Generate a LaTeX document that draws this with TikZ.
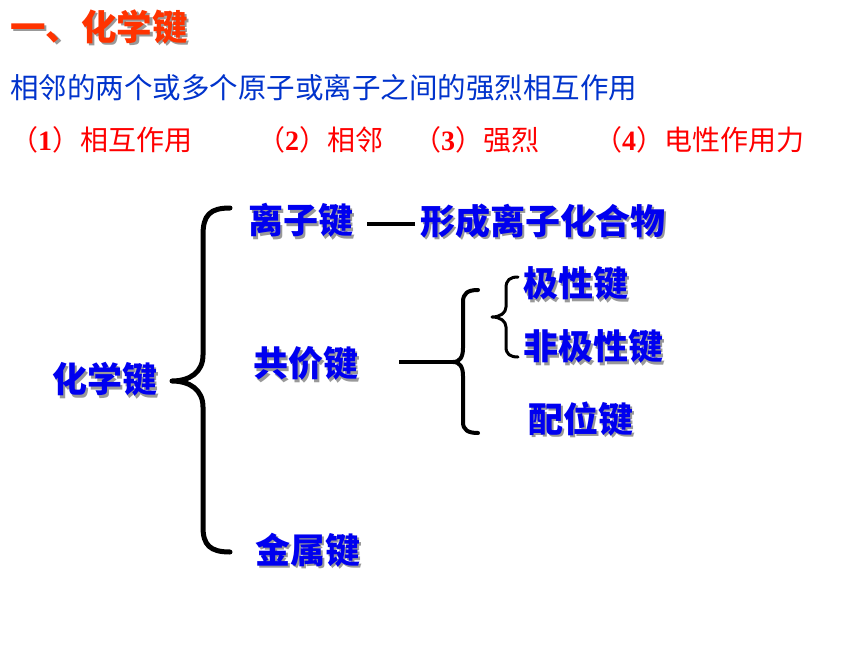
\documentclass[tikz,border=0pt]{standalone}
\usepackage{fontspec}
\setmainfont{Liberation Serif}
\newfontfamily\cjk{Noto Sans CJK SC}
\newfontfamily\lat{Liberation Serif}
\definecolor{titlered}{HTML}{FF3300}
\definecolor{lineblue}{HTML}{0033CC}
\definecolor{diagblue}{HTML}{0000F0}
\definecolor{itemred}{HTML}{FF0000}
\newcommand\shd[1]{\makebox[0pt][l]{\hspace{2.5pt}\raisebox{-2.5pt}{\color{black!40}#1}}#1}
\newcommand\dg[1]{{\lat\bfseries #1}}
\begin{document}
\begin{tikzpicture}[x=1pt,y=-1pt,
  txt/.style={inner sep=0pt, anchor=west},
  title/.style={txt, text=titlered, font=\cjk\bfseries\fontsize{35.5}{40}\selectfont},
  defn/.style={txt, text=lineblue, font=\cjk\fontsize{28.5}{32}\selectfont},
  item/.style={txt, text=itemred, font=\cjk\fontsize{28}{32}\selectfont},
  term/.style={txt, text=diagblue, font=\cjk\bfseries\fontsize{35}{38}\selectfont},
  brace/.style={draw=black, line cap=round, line join=round},
  link/.style={draw=black, line width=4pt}]
\useasboundingbox (0,0) rectangle (860,645);
\fill[white] (0,0) rectangle (860,645);

\node[title] (title) at (10,28) {\shd{一、化学键}};
\node[defn] (defn) at (10,88) {相邻的两个或多个原子或离子之间的强烈相互作用};
\node[item] (i1) at (10,140) {（\dg{1}）相互作用};
\node[item] (i2) at (257,140) {（\dg{2}）相邻};
\node[item] (i3) at (413,140) {（\dg{3}）强烈};
\node[item] (i4) at (594,140) {（\dg{4}）电性作用力};

\node[term] (ionic) at (248,222) {\shd{离子键}};
\node[term] (ioncomp) at (420,222) {\shd{形成离子化合物}};
\node[term] (chem) at (52,381) {\shd{化学键}};
\node[term] (cov) at (253,365) {\shd{共价键}};
\node[term] (met) at (255,551) {\shd{金属键}};
\node[term] (polar) at (523,285) {\shd{极性键}};
\node[term] (nonpolar) at (523,348) {\shd{非极性键}};
\node[term] (coord) at (528,420) {\shd{配位键}};

% big brace
\draw[brace, line width=5pt] (230,208) .. controls (210,208) and (203,215) .. (203,235)
  -- (203,355) .. controls (203,372) and (190,381) .. (172,381)
  .. controls (190,381) and (203,390) .. (203,407)
  -- (203,527) .. controls (203,545) and (210,552) .. (230,552);

% covalent brace
\coordinate (b2tip) at (453,362);
\draw[brace, line width=4pt] (478,290) .. controls (468,290) and (463,293) .. (463,302)
  -- (463,348) .. controls (463,357) and (460,362) .. (b2tip)
  .. controls (460,362) and (463,367) .. (463,376)
  -- (463,422) .. controls (463,430) and (468,433) .. (478,433);

% small brace
\draw[brace, line width=3pt] (518,277) .. controls (510,277) and (506,280) .. (506,288)
  -- (506,307) .. controls (506,313) and (500,317) .. (492,317)
  .. controls (500,317) and (506,321) .. (506,327)
  -- (506,347) .. controls (506,354) and (510,357) .. (518,357);

% connectors
\coordinate (dashL) at (367,224);
\draw[link] (dashL) -- ([xshift=-5pt]ioncomp.west |- dashL);
\draw[link] ([xshift=41pt]cov.east |- b2tip) -- (b2tip);
\end{tikzpicture}
\end{document}
